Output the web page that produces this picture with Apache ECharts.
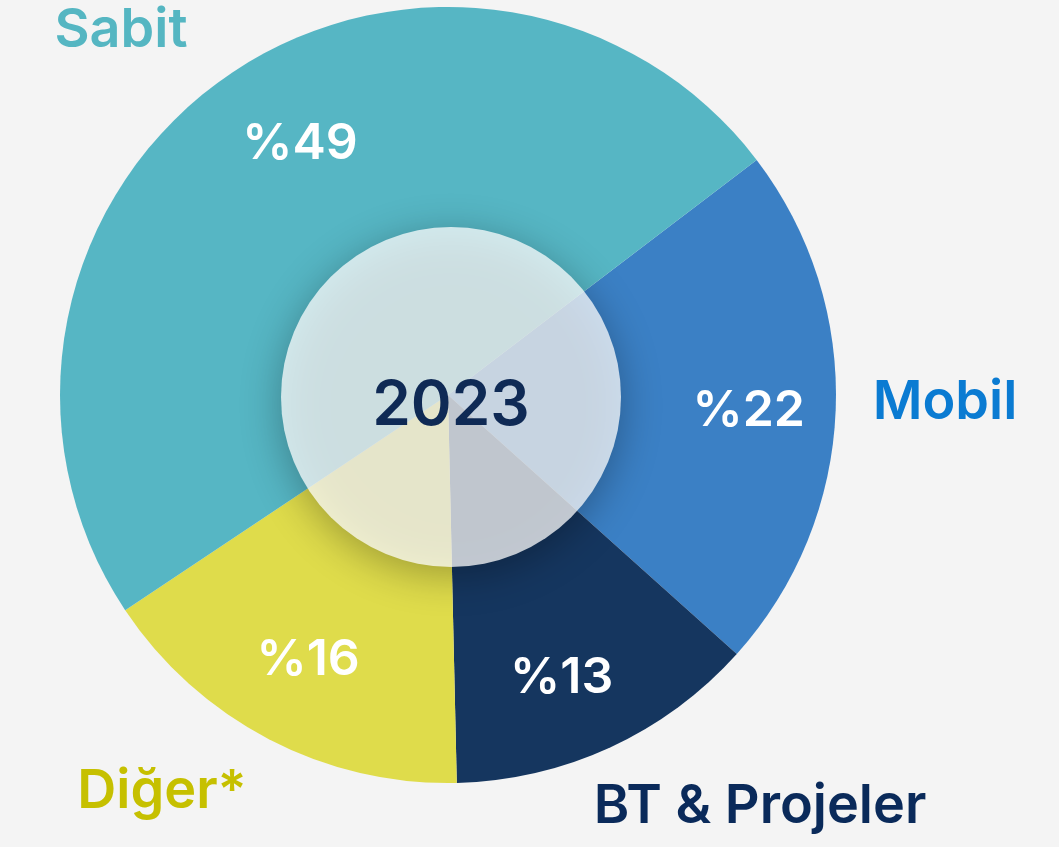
<!DOCTYPE html>
<html>
<head>
<meta charset="utf-8">
<style>
  html, body { margin: 0; padding: 0; background: #f4f4f4; }
  #chart { width: 1059px; height: 847px; }
</style>
<script src="https://cdn.jsdelivr.net/npm/echarts@6/dist/echarts.min.js"></script>
</head>
<body>
<div id="chart"></div>
<script>
// slices in clockwise order, starting at the Mobil slice
var names = ['Mobil', 'BT & Projeler', 'Diğer*', 'Sabit'];
var values = [22, 13, 16, 49];
var sliceColors = ['#3b80c5', '#15365f', '#dfdc4b', '#56b6c4'];
var nameColors = ['#0a7bd2', '#0a2a5a', '#c6c000', '#55b6c2'];
var year = '2023';

// where the category names sit
var namePos = [[945, 403], [760, 807], [162, 792], [121, 31]];
// small nudges of the % labels from their default spot
var pctShift = [[-2, 4], [-13, 8], [0, -4], [28, -4]];

var FONT = 'Inter, "Open Sans", sans-serif';
var CX = 448, CY = 395, R = 388;
var START = 37.3;

var pieData = names.map(function (n, i) {
    return { name: n, value: values[i], itemStyle: { color: sliceColors[i] },
        label: { color: nameColors[i] } };
});

var option = {
    backgroundColor: '#f4f4f4',
    animation: false,
    series: [
        {
            type: 'pie',
            center: [CX, CY],
            radius: [0, R],
            startAngle: START,
            clockwise: true,
            silent: true,
            data: pieData,
            label: {
                show: true,
                position: 'outside',
                formatter: '{b}',
                fontFamily: FONT,
                fontSize: 54,
                fontWeight: 600
            },
            labelLine: { show: false },
            labelLayout: function (params) {
                var p = namePos[params.dataIndex];
                return { x: p[0], y: p[1], align: 'center', verticalAlign: 'middle' };
            }
        },
        {
            // percentage labels only
            type: 'pie',
            center: [CX, CY],
            radius: [212, R],
            startAngle: START,
            clockwise: true,
            silent: true,
            data: names.map(function (n, i) {
                return { name: n, value: values[i], itemStyle: { color: 'rgba(0,0,0,0)' } };
            }),
            label: {
                show: true,
                position: 'inside',
                formatter: '%{c}',
                color: '#ffffff',
                fontFamily: FONT,
                fontSize: 50,
                fontWeight: 600
            },
            labelLine: { show: false },
            labelLayout: function (params) {
                var s = pctShift[params.dataIndex];
                return { dx: s[0], dy: s[1] };
            }
        },
        {
            // centre disc with the year
            type: 'pie',
            center: [451, 397],
            radius: [0, 170],
            silent: true,
            z: 5,
            data: [{ name: year, value: 1 }],
            itemStyle: {
                color: 'rgba(255,255,255,0.74)',
                shadowBlur: 40,
                shadowColor: 'rgba(0,0,0,0.4)',
                shadowOffsetY: 8
            },
            label: {
                show: true,
                position: 'center',
                formatter: '{b}',
                color: '#0f2a55',
                fontFamily: FONT,
                fontSize: 62,
                fontWeight: 600,
                offset: [0, 9]
            },
            labelLine: { show: false }
        }
    ]
};

var myChart = echarts.init(document.getElementById('chart'));
myChart.setOption(option);
</script>
</body>
</html>
